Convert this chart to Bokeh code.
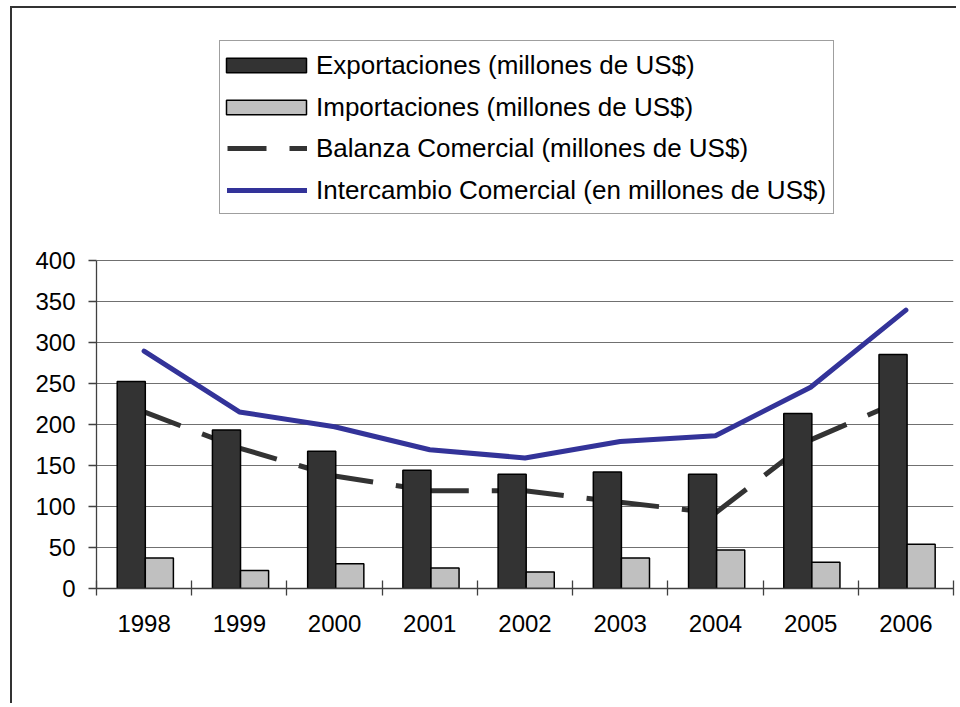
import numpy as np
from bokeh.plotting import figure
from bokeh.models import (ColumnDataSource, Range1d, FixedTicker, Legend, LegendItem)
from bokeh.transform import dodge
from bokeh.embed import file_html
from bokeh.resources import INLINE

years = ["1998", "1999", "2000", "2001", "2002", "2003", "2004", "2005", "2006"]
exportaciones = [252, 193, 167, 144, 139, 142, 139, 213, 285]
importaciones = [37, 22, 30, 25, 20, 37, 47, 32, 54]
balanza = [215, 171, 137, 119, 119, 105, 92, 181, 231]
intercambio = [289, 215, 197, 169, 159, 179, 186, 245, 339]
y_ticks = [0, 50, 100, 150, 200, 250, 300, 350, 400]

labels = ["Exportaciones (millones de US$)",
          "Importaciones (millones de US$)",
          "Balanza Comercial (millones de US$)",
          "Intercambio Comercial (en millones de US$)"]

FONT = "Liberation Sans"

idx = list(range(len(years)))
src = ColumnDataSource(dict(x=idx, exp=exportaciones, imp=importaciones,
                            bal=balanza, inter=intercambio))

# frame extended upward so the legend lies inside it; axis/grid limited to 0..400
p = figure(width=946, height=697, output_backend="svg", toolbar_location=None,
           x_range=Range1d(-0.5, len(years) - 0.5), y_range=Range1d(0, 696.5),
           min_border_left=84, min_border_right=5, min_border_top=8,
           min_border_bottom=117, background_fill_color="white",
           border_fill_color="white", outline_line_color=None)
p.margin = (6, 0, 0, 10)
p.styles = {"border-left": "2px solid #333333", "border-top": "2px solid #333333"}

# lines first (drawn behind the bars)
r_inter = p.line("x", "inter", source=src, line_color="#333399", line_width=5,
                 line_join="round", line_cap="round")
r_bal = p.segment(x0=idx[:-1], y0=balanza[:-1], x1=idx[1:], y1=balanza[1:],
                  line_color="#333333", line_width=5, line_dash="39 23")

r_exp = p.vbar(x=dodge("x", -0.135, range=p.x_range), top="exp", width=0.295,
               source=src, fill_color="#333333", line_color="black", line_width=1.5)
r_imp = p.vbar(x=dodge("x", 0.16, range=p.x_range), top="imp", width=0.295,
               source=src, fill_color="#C0C0C0", line_color="black", line_width=1.5)

# invisible placeholder for the legend rows that the bar legend overlays
r_blank = p.line(x=[], y=[], line_alpha=0)

# axes
xa = p.xaxis[0]
xa.ticker = FixedTicker(ticks=idx, minor_ticks=[i - 0.5 for i in range(len(years) + 1)])
xa.major_label_overrides = {i: y for i, y in enumerate(years)}
xa.major_tick_in = 0
xa.major_tick_out = 0
xa.minor_tick_in = 8
xa.minor_tick_out = 7
xa.minor_tick_line_color = "#404040"
xa.minor_tick_line_width = 1.3
xa.axis_line_color = "#404040"
xa.axis_line_width = 1.3
xa.major_label_text_font = FONT
xa.major_label_text_font_size = "24px"
xa.major_label_text_color = "black"
xa.major_label_standoff = 19

ya = p.yaxis[0]
ya.ticker = FixedTicker(ticks=y_ticks)
ya.bounds = (0, 400)
ya.major_tick_in = 0
ya.major_tick_out = 8
ya.minor_tick_line_color = None
ya.major_tick_line_color = "#404040"
ya.major_tick_line_width = 1.3
ya.axis_line_color = "#404040"
ya.axis_line_width = 1.3
ya.major_label_text_font = FONT
ya.major_label_text_font_size = "24px"
ya.major_label_text_color = "black"
ya.major_label_standoff = 13


def style_legend(lg):
    lg.label_text_font = FONT
    lg.label_text_font_size = "26px"
    lg.label_text_color = "black"
    lg.label_height = 32
    lg.spacing = 10
    lg.padding = 7
    lg.margin = 0


p.xgrid.grid_line_color = None
p.ygrid.grid_line_color = "#707070"
p.ygrid.grid_line_width = 1.2

# boxed legend: line series (rows 1-2 left blank for the bar legend on top)
legend_lines = Legend(items=[
    LegendItem(label=" ", renderers=[r_blank]),
    LegendItem(label=" ", renderers=[r_blank]),
    LegendItem(label=labels[2], renderers=[r_bal]),
    LegendItem(label=labels[3], renderers=[r_inter]),
], location=(123, 374))
style_legend(legend_lines)
legend_lines.glyph_height = 14
legend_lines.glyph_width = 80
legend_lines.label_standoff = 9
legend_lines.border_line_color = "#404040"
legend_lines.border_line_width = 1.5
legend_lines.background_fill_color = "white"
legend_lines.background_fill_alpha = 1.0
p.add_layout(legend_lines)

# bar legend overlaid on the first two rows (wider glyph area to offset the inset)
legend_bars = Legend(items=[
    LegendItem(label=labels[0], renderers=[r_exp]),
    LegendItem(label=labels[1], renderers=[r_imp]),
], location=(120, 465))
style_legend(legend_bars)
legend_bars.glyph_height = 18
legend_bars.glyph_width = 100
legend_bars.label_standoff = -1
legend_bars.border_line_color = None
legend_bars.background_fill_alpha = 0
p.add_layout(legend_bars)

open("out.html", "w").write(file_html(p, INLINE))
